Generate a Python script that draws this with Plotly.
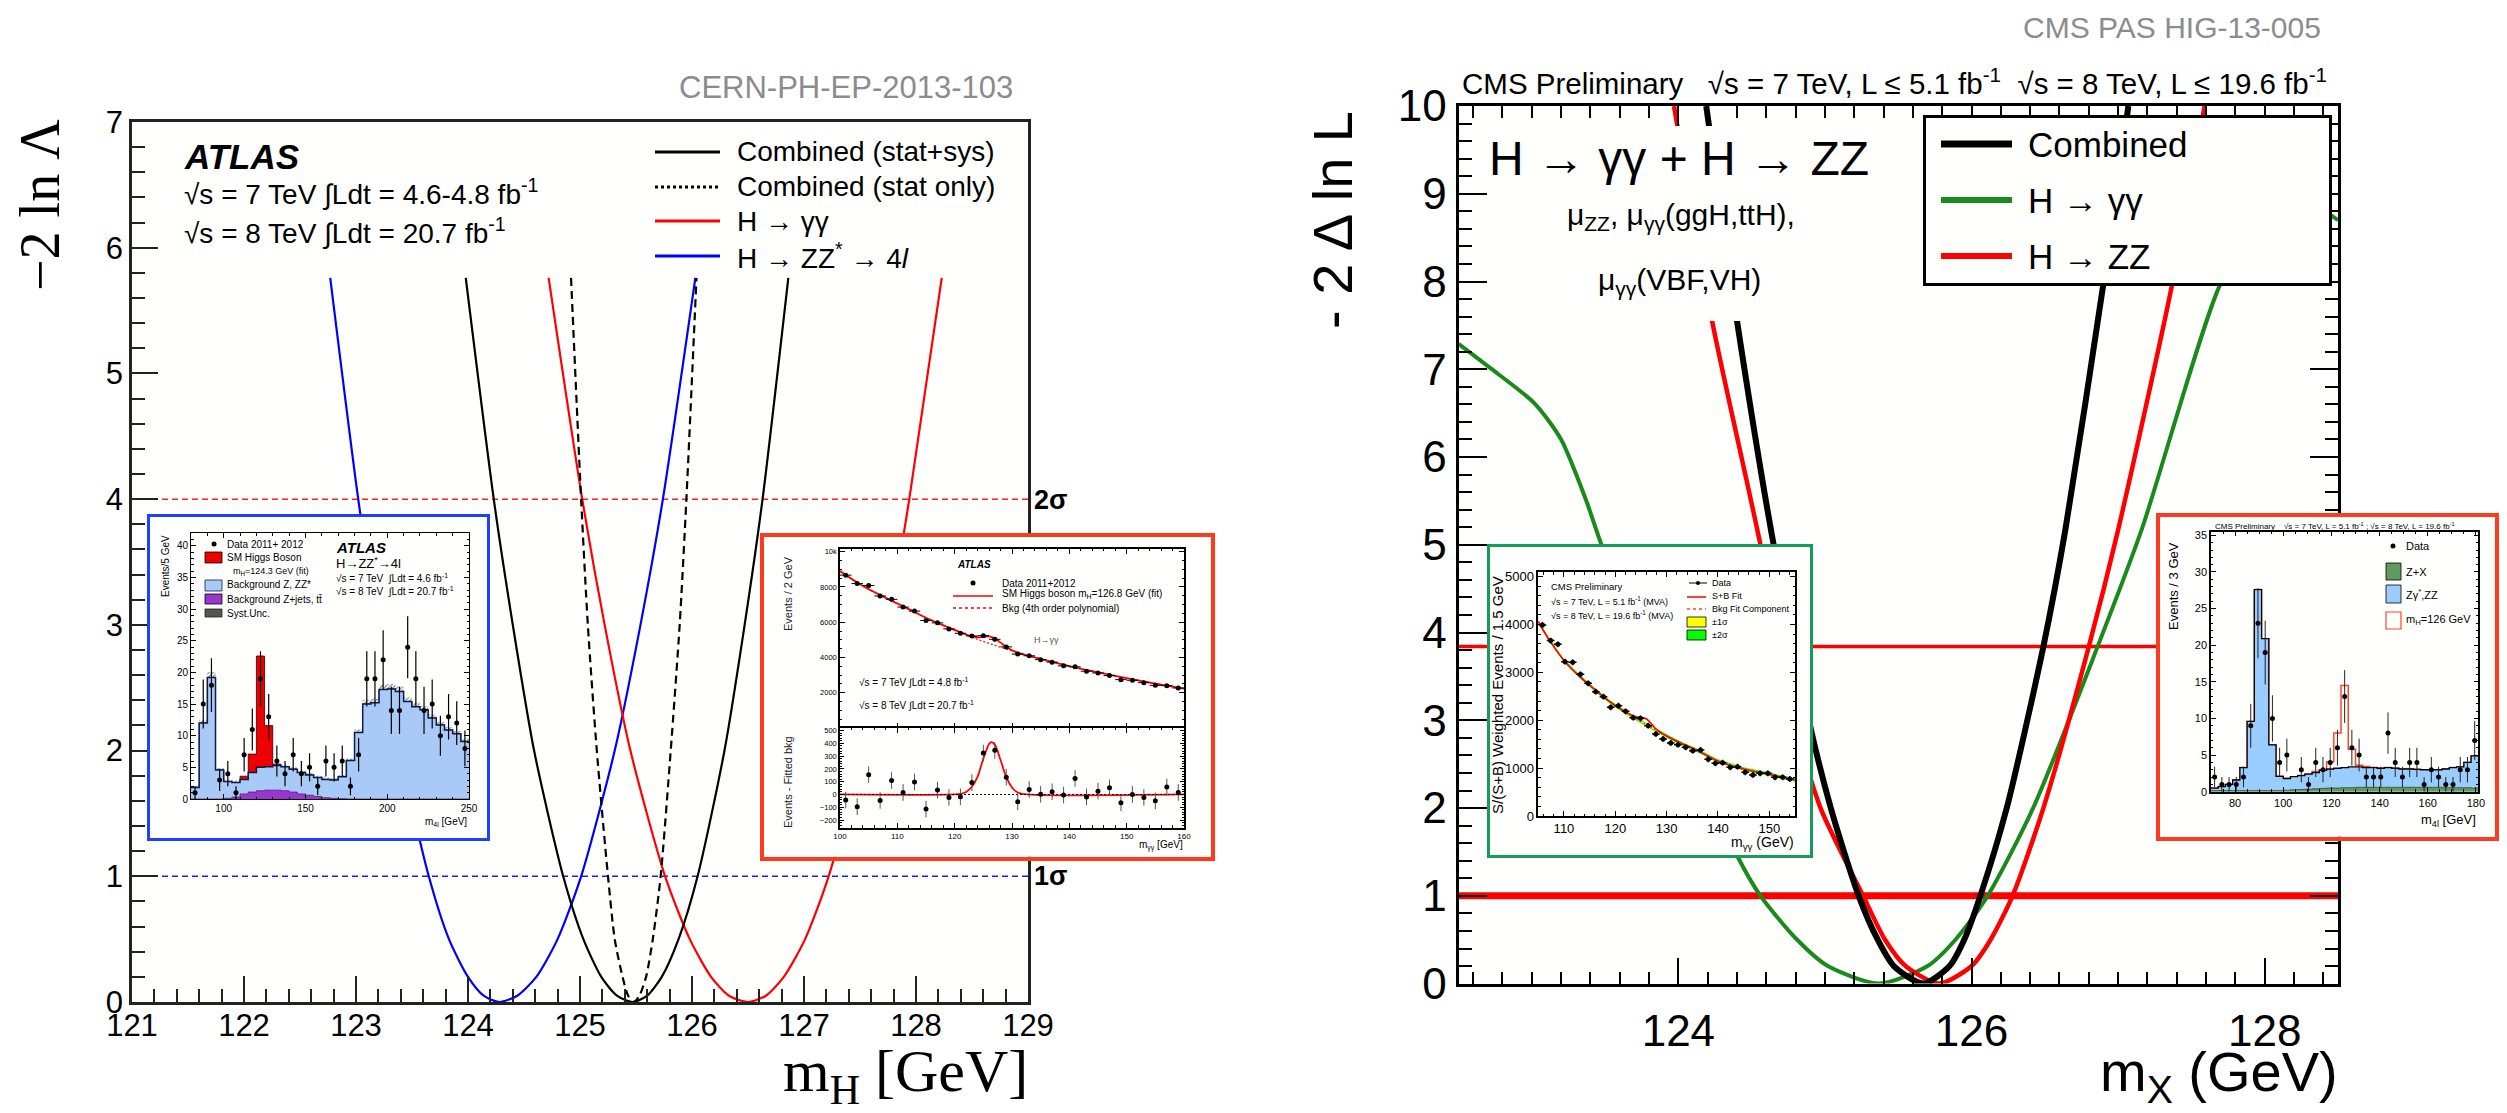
import numpy as np
import plotly.graph_objects as go

W, H = 2507, 1113
SANS = "Liberation Sans, Arial, Helvetica, sans-serif"
SERIF = "Liberation Serif, Times New Roman, serif"

# ---------------- ATLAS main panel (left): -2 ln Lambda vs mH ----------------
ATLAS_XRANGE = [121, 129]
ATLAS_YRANGE = [0, 7]
ATLAS_SIGMA_LEVELS = [1, 4]
ATLAS_LEVELS = [5.76, 4, 3, 2, 1, 0.5, 0.2, 0.05, 0, 0.05, 0.2, 0.5, 1, 2, 3, 4, 5.76]
ATLAS_ZZ_X = [122.77, 123.02, 123.19, 123.39, 123.65, 123.83, 124.00, 124.14, 124.28,
              124.44, 124.61, 124.80, 125.01, 125.31, 125.54, 125.74, 126.03]
ATLAS_COMB_X = [123.98, 124.23, 124.40, 124.59, 124.85, 125.03, 125.19, 125.33, 125.47,
                125.60, 125.73, 125.88, 126.05, 126.29, 126.47, 126.63, 126.86]
ATLAS_STAT_X = [124.92, 125.01, 125.07, 125.15, 125.25, 125.31, 125.38, 125.43, 125.48,
                125.53, 125.59, 125.65, 125.72, 125.81, 125.89, 125.95, 126.04]
ATLAS_GG_X = [124.72, 125.02, 125.22, 125.45, 125.76, 125.98, 126.17, 126.33, 126.50,
              126.66, 126.82, 127.01, 127.22, 127.52, 127.75, 127.94, 128.23]

# ---------------- CMS main panel (right): -2 Delta ln L vs mX ----------------
CMS_XRANGE = [122.5, 128.5]
CMS_YRANGE = [0, 10]
CMS_CL_LEVELS = [1, 3.84]
CMS_COMB_X = [124.19, 124.40, 124.65, 124.89, 125.04, 125.23, 125.36, 125.47, 125.67,
              125.85, 125.95, 126.06, 126.24, 126.49, 126.64, 126.90, 127.07]
CMS_COMB_Y = [10, 7.55, 5, 3, 2, 1, 0.5, 0.2, 0, 0.2, 0.5, 1, 2, 3.84, 5.17, 7.98, 10]
CMS_ZZ_X = [123.97, 124.23, 124.56, 124.79, 124.97, 125.26, 125.41, 125.55, 125.78,
            126.00, 126.13, 126.28, 126.49, 126.80, 127.00, 127.37, 127.59]
CMS_ZZ_Y = [10, 7.55, 5, 3, 2, 1, 0.5, 0.2, 0, 0.2, 0.5, 1, 2, 3.84, 5.17, 7.98, 10]
CMS_GG_X = [122.50, 122.72, 123.02, 123.20, 123.37, 123.48, 123.85, 124.12, 124.40, 124.56,
            124.81, 125.02, 125.37, 125.70, 125.89, 126.11, 126.42, 126.86, 127.16, 127.70,
            127.95, 128.15, 128.35, 128.50]
CMS_GG_Y = [7.29, 7.01, 6.61, 6.20, 5.51, 4.98, 3.5, 2.5, 1.46, 1.0,
            0.5, 0.2, 0, 0.2, 0.5, 1, 2, 3.84, 5.17, 7.98,
            8.6, 8.85, 8.85, 8.7]

# ---------------- inset: ATLAS H->ZZ*->4l ----------------
ZZ_EDGES = list(range(80, 251, 5))
ZZ_BKG = [1.8, 12.0, 19.2, 4.6, 2.75, 2.6, 3.1, 4.2, 5.0, 5.1, 5.3, 5.1, 4.7, 4.2, 3.8, 3.4, 3.1,
          3.0, 3.5, 6.1, 10.5, 15.0, 15.2, 17.3, 17.4, 17.0, 15.4, 14.6, 14.1, 12.8, 11.7, 10.9,
          10.3, 9.1]
ZZ_SIGNAL = [0, 0, 0, 0, 0, 0, 0.5, 2.9, 17.6, 6.5, 0.2, 0, 0, 0, 0, 0, 0,
             0, 0, 0, 0, 0, 0, 0, 0, 0, 0, 0, 0, 0, 0, 0, 0, 0]
ZZ_ZJETS = [0, 0, 0, 0, 0.1, 0.3, 0.8, 1.1, 1.3, 1.4, 1.4, 1.3, 1.1, 0.8, 0.6, 0.4, 0.2,
            0.1, 0.05, 0, 0, 0, 0, 0, 0, 0, 0, 0, 0, 0, 0, 0, 0, 0]
ZZ_DATA = [1, 15, 18, 3, 4, 1, 7, 11, 19, 13, 6, 4, 7, 4, 5, 2, 6, 5, 6, 2, 7, 19, 19, 22,
           14, 14, 24, 19, 14, 15, 10, 13, 12, 8]

# ---------------- inset: ATLAS H->gamma gamma ----------------
AGG_X = list(range(101, 160, 2))
AGG_Y = [8667, 8190, 8076, 7486, 7295, 6857, 6629, 6095, 5962, 5619, 5371, 5219, 5238, 5029,
         4600, 4190, 4095, 3876, 3733, 3524, 3467, 3219, 3124, 2971, 2743, 2705, 2571, 2419,
         2400, 2267]
AGG_RES = [-44, -96, 155, -47, 109, 16, 98, -114, 34, -23, -18, 93, 324, 345, 135, -57, 39, 2,
           21, -5, 125, -19, 26, 52, -65, 0, -23, -50, 59, 16]
AGG_FIT_X = [100, 104, 108, 112, 116, 120, 122, 123, 124, 125, 126, 127, 128, 129, 130, 131,
             132, 136, 140, 144, 148, 152, 156, 160]
AGG_BKG_Y = [8900, 8050, 7380, 6740, 6100, 5560, 5290, 5160, 5020, 4910, 4800, 4690, 4580,
             4480, 4370, 4270, 4170, 3830, 3510, 3220, 2950, 2700, 2460, 2230]
AGG_SB_Y = [8900, 8050, 7380, 6740, 6100, 5560, 5295, 5200, 5140, 5170, 5190, 5080, 4840,
            4600, 4410, 4275, 4170, 3830, 3510, 3220, 2950, 2700, 2460, 2230]
AGG_RESFIT_X = [100, 120, 121, 122, 123, 124, 125, 126, 126.4, 127, 128, 129, 130, 131, 132, 160]
AGG_RESFIT_Y = [0, 0, 5, 20, 60, 140, 280, 395, 410, 390, 270, 135, 55, 15, 3, 0]

# ---------------- inset: CMS H->gamma gamma ----------------
CGG_X = [105.8, 107.4, 108.8, 110.2, 111.7, 113.2, 114.7, 116.2, 117.7, 119.1, 120.6, 122.0,
         123.5, 124.9, 126.4, 127.9, 129.3, 130.8, 132.2, 133.7, 135.1, 136.6, 138.1, 139.5,
         140.9, 142.4, 143.8, 145.3, 146.8, 148.2, 149.7, 151.1, 152.6, 154.0]
CGG_Y = [3990, 3663, 3586, 3224, 3210, 2960, 2772, 2597, 2493, 2270, 2305, 2187, 2054, 2040,
         1887, 1713, 1609, 1525, 1490, 1434, 1365, 1379, 1184, 1100, 1114, 1017, 1031, 912,
         857, 891, 891, 808, 808, 773]
CGG_FIT_X = [105, 107, 110, 113, 116, 119, 122, 124, 125, 126, 127, 128, 130, 133, 136, 140,
             145, 150, 155]
CGG_BKG_Y = [4060, 3700, 3250, 2920, 2640, 2380, 2160, 2030, 1970, 1910, 1850, 1790, 1670,
             1510, 1370, 1150, 980, 870, 750]
CGG_SB_Y = [4060, 3700, 3250, 2920, 2640, 2380, 2175, 2075, 2055, 2030, 1930, 1810, 1670,
            1510, 1370, 1150, 980, 870, 750]
CGG_BAND1 = 18
CGG_BAND2 = 36

# ---------------- inset: CMS H->ZZ->4l ----------------
CZZ_EDGES = list(range(70, 182, 3))
CZZ_BKG = [0.5, 0.7, 1.0, 1.6, 3.3, 9.6, 27.6, 20.9, 6.4, 2.1, 1.8, 2.05, 2.2, 2.4, 2.6, 2.9,
           3.1, 3.2, 3.3, 3.4, 3.4, 3.3, 3.3, 3.2, 3.3, 3.2, 3.1, 3.1, 3.05, 3.0, 3.0, 3.0, 3.1,
           3.3, 3.4, 4.0, 4.9]
CZZ_SIG = [0, 0, 0, 0, 0, 0, 0, 0, 0, 0, 0, 0, 0, 0, 0.15, 0.1, 1.0, 4.8, 11.2, 2.4, 0.2,
           0.15, 0, 0, 0, 0, 0, 0, 0, 0, 0, 0, 0, 0, 0, 0, 0]
CZZ_ZX = [0.15, 0.15, 0.15, 0.15, 0.15, 0.15, 0.15, 0.15, 0.15, 0.15, 0.2, 0.25, 0.3, 0.35,
          0.4, 0.45, 0.5, 0.5, 0.55, 0.55, 0.6, 0.6, 0.6, 0.6, 0.6, 0.6, 0.6, 0.6, 0.6, 0.6,
          0.6, 0.6, 0.55, 0.55, 0.55, 0.55, 0.5]
CZZ_DATA = [2, 1, 1, 1, 2, 9, 23, 19, 10, 4, 5, None, 3, 1, 4, 3, 4, 6, 13, 6, 5, 2, 2, 2, 8,
            4, 2, 4, 4, 1, 3, 2, 1, 1, 3, 3, 7]

# ============================================================================
def px(x):
    return x / W


def py(y):
    return 1 - y / H


def xdom(a, b):
    return [a / W, b / W]


def ydom(top, bot):
    return [1 - bot / H, 1 - top / H]


fig = go.Figure()
layout_axes = {}


def axname(n, kind):
    return kind + ("axis" if n == 1 else "axis%d" % n)


def ref(n, kind):
    return kind if n == 1 else "%s%d" % (kind, n)


def box_axes(n, x0, y0, x1, y1, color=None, lw=3):
    common = dict(range=[0, 1], showgrid=False, zeroline=False, showticklabels=False,
                  ticks="", fixedrange=True, showline=color is not None, automargin=False,
                  linecolor=color or "white", linewidth=lw, mirror=True)
    layout_axes[axname(n, "x")] = dict(domain=xdom(x0, x1), anchor=ref(n, "y"), **common)
    layout_axes[axname(n, "y")] = dict(domain=ydom(y0, y1), anchor=ref(n, "x"), **common)
    fig.add_trace(go.Scatter(x=[None], y=[None], xaxis=ref(n, "x"), yaxis=ref(n, "y"),
                             showlegend=False, hoverinfo="skip"))


def data_axis(dom, rng, anchor, fsize, tickvals=None, dtick=None, minor_dtick=None,
              ticklen=5, showlabels=True, lw=1, tick0=0, mirror="ticks"):
    d = dict(domain=dom, range=rng, anchor=anchor, showgrid=False, zeroline=False,
             showline=True, linecolor="black", linewidth=lw, mirror=mirror, automargin=False,
             ticks="inside", ticklen=ticklen, tickcolor="black", tickwidth=1,
             showticklabels=showlabels,
             tickfont=dict(family=SANS, size=fsize, color="black"), fixedrange=True)
    if tickvals is not None:
        d["tickvals"] = tickvals
    else:
        d["tick0"] = tick0
        d["dtick"] = dtick
    if minor_dtick:
        d["minor"] = dict(dtick=minor_dtick, ticks="inside", ticklen=max(2, ticklen * 0.5),
                          tickcolor="black", tickwidth=1)
    return d


def step(edges, vals):
    return list(edges), list(vals) + [vals[-1]]


def txt(x, y, s, size, color="black", xa="left", ya="middle", family=SANS, angle=0):
    fig.add_annotation(x=px(x), y=py(y), xref="paper", yref="paper", text=s, showarrow=False,
                       xanchor=xa, yanchor=ya, textangle=angle,
                       font=dict(size=size, color=color, family=family))


def hline(x0, x1, y, color, width, dash="solid"):
    fig.add_shape(type="line", xref="paper", yref="paper", x0=px(x0), x1=px(x1),
                  y0=py(y), y1=py(y), line=dict(color=color, width=width, dash=dash),
                  layer="above")


def rect(x0, y0, x1, y1, fill, line="black", lw=0.8):
    fig.add_shape(type="rect", xref="paper", yref="paper", x0=px(x0), x1=px(x1),
                  y0=py(y1), y1=py(y0), fillcolor=fill, line=dict(color=line, width=lw),
                  layer="above")


def dot(x, y, r, color="black"):
    fig.add_shape(type="circle", xref="paper", yref="paper", x0=px(x - r), x1=px(x + r),
                  y0=py(y + r), y1=py(y - r), fillcolor=color, line=dict(color=color, width=0),
                  layer="above")


# ---------------- subplot 1: ATLAS main ----------------
layout_axes["xaxis"] = dict(domain=xdom(132, 1028), range=ATLAS_XRANGE, anchor="y",
                            showgrid=False, zeroline=False, showline=True, linecolor="#222",
                            linewidth=2.5, mirror=True, ticks="inside", ticklen=26,
                            tickwidth=2, tickcolor="#222", tick0=0, dtick=1, automargin=False,
                            ticklabelstandoff=-6,
                            minor=dict(dtick=0.2, ticks="inside", ticklen=13, tickwidth=1.5,
                                       tickcolor="#222"),
                            tickfont=dict(family=SANS, size=31, color="black"), fixedrange=True)
layout_axes["yaxis"] = dict(domain=ydom(122, 1002), range=ATLAS_YRANGE, anchor="x",
                            showgrid=False, zeroline=False, showline=True, linecolor="#222",
                            linewidth=2.5, mirror=True, ticks="inside", ticklen=26,
                            tickwidth=2, tickcolor="#222", tick0=0, dtick=1, automargin=False,
                            minor=dict(dtick=0.2, ticks="inside", ticklen=13, tickwidth=1.5,
                                       tickcolor="#222"),
                            tickfont=dict(family=SANS, size=31, color="black"), fixedrange=True)

fig.add_trace(go.Scatter(x=ATLAS_XRANGE, y=[ATLAS_SIGMA_LEVELS[1]] * 2, mode="lines",
                         line=dict(color="#ff2020", width=1.5, dash="6px,4px"),
                         xaxis="x", yaxis="y", hoverinfo="skip"))
fig.add_trace(go.Scatter(x=ATLAS_XRANGE, y=[ATLAS_SIGMA_LEVELS[0]] * 2, mode="lines",
                         line=dict(color="#1020ff", width=1.5, dash="6px,4px"),
                         xaxis="x", yaxis="y", hoverinfo="skip"))
for xs, col, dash in [(ATLAS_ZZ_X, "#0000ff", "solid"), (ATLAS_GG_X, "#ff0000", "solid"),
                      (ATLAS_STAT_X, "black", "8px,5px"), (ATLAS_COMB_X, "black", "solid")]:
    fig.add_trace(go.Scatter(x=xs, y=ATLAS_LEVELS, mode="lines", xaxis="x", yaxis="y",
                             line=dict(color=col, width=2.2, dash=dash, shape="spline",
                                       smoothing=0.7), hoverinfo="skip"))

# ---------------- subplot 2: CMS main ----------------
layout_axes["xaxis2"] = dict(domain=xdom(1458.5, 2338), range=CMS_XRANGE, anchor="y2",
                             showgrid=False, zeroline=False, showline=True, linecolor="black",
                             linewidth=3, mirror="ticks", ticks="inside", ticklen=26,
                             tickwidth=2, tickcolor="black", tick0=0, dtick=2, automargin=False,
                             ticklabelstandoff=7,
                             minor=dict(dtick=0.2, ticks="inside", ticklen=12, tickwidth=1.5,
                                        tickcolor="black"),
                             tickfont=dict(family=SANS, size=44, color="black"), fixedrange=True)
layout_axes["yaxis2"] = dict(domain=ydom(106, 983.6), range=CMS_YRANGE, anchor="x2",
                             showgrid=False, zeroline=False, showline=True, linecolor="black",
                             linewidth=3, mirror="ticks", ticks="inside", ticklen=28,
                             tickwidth=2, tickcolor="black", tick0=0, dtick=1, automargin=False,
                             minor=dict(dtick=0.2, ticks="inside", ticklen=13, tickwidth=1.5,
                                        tickcolor="black"),
                             tickfont=dict(family=SANS, size=44, color="black"), fixedrange=True)

fig.add_trace(go.Scatter(x=CMS_XRANGE, y=[CMS_CL_LEVELS[0]] * 2, mode="lines",
                         line=dict(color="#ff0000", width=7), xaxis="x2", yaxis="y2",
                         hoverinfo="skip"))
fig.add_trace(go.Scatter(x=CMS_XRANGE, y=[CMS_CL_LEVELS[1]] * 2, mode="lines",
                         line=dict(color="#ff0000", width=3.5), xaxis="x2", yaxis="y2",
                         hoverinfo="skip"))
for xs, ys, col, w in [(CMS_GG_X, CMS_GG_Y, "#1a8a1a", 4), (CMS_ZZ_X, CMS_ZZ_Y, "#ff0000", 4.5),
                       (CMS_COMB_X, CMS_COMB_Y, "black", 6)]:
    fig.add_trace(go.Scatter(x=xs, y=ys, mode="lines", xaxis="x2", yaxis="y2",
                             line=dict(color=col, width=w, shape="spline", smoothing=0.7),
                             hoverinfo="skip"))

# ---------------- subplot 3/4: ATLAS ZZ inset ----------------
box_axes(3, 150, 516.7, 486.7, 838.3, color="#2040ff", lw=3)
layout_axes["xaxis4"] = data_axis(xdom(191, 469), [80, 250], "y4", 10, dtick=50, tick0=0,
                                  minor_dtick=10)
layout_axes["yaxis4"] = data_axis(ydom(533.3, 799), [0, 42], "x4", 10, dtick=5, minor_dtick=1)
ex, tot = step(ZZ_EDGES, [b + s for b, s in zip(ZZ_BKG, ZZ_SIGNAL)])
fig.add_trace(go.Scatter(x=ex, y=tot, mode="lines", line=dict(shape="hv", color="#300", width=0.8),
                         fill="tozeroy", fillcolor="#ee0000", xaxis="x4", yaxis="y4",
                         hoverinfo="skip"))
ex, bk = step(ZZ_EDGES, ZZ_BKG)
fig.add_trace(go.Scatter(x=ex, y=bk, mode="lines", line=dict(shape="hv", color="#0b1d4d", width=1.5),
                         fill="tozeroy", fillcolor="#a9c9f7", xaxis="x4", yaxis="y4",
                         hoverinfo="skip"))
zz_centers = [e + 2.5 for e in ZZ_EDGES[:-1]]
zz_syst = np.maximum(0.3, 0.045 * np.array(ZZ_BKG))
fig.add_trace(go.Bar(x=zz_centers, y=2 * zz_syst, base=np.array(ZZ_BKG) - zz_syst, width=5,
                     marker=dict(color="rgba(0,0,0,0)", line=dict(width=0),
                                 pattern=dict(shape="/", fgcolor="#222", size=3, solidity=0.45)),
                     xaxis="x4", yaxis="y4", hoverinfo="skip"))
ex, zj = step(ZZ_EDGES, ZZ_ZJETS)
fig.add_trace(go.Scatter(x=ex, y=zj, mode="lines", line=dict(shape="hv", color="#5a1a80", width=0.8),
                         fill="tozeroy", fillcolor="#9b35cf", xaxis="x4", yaxis="y4",
                         hoverinfo="skip"))
fig.add_trace(go.Scatter(x=zz_centers, y=ZZ_DATA, mode="markers",
                         marker=dict(color="black", size=5),
                         error_y=dict(type="data", array=np.sqrt(ZZ_DATA), color="black",
                                      thickness=1.2, width=0),
                         xaxis="x4", yaxis="y4", hoverinfo="skip"))

# ---------------- subplot 5/6/7: ATLAS gamma-gamma inset ----------------
box_axes(5, 764, 536.7, 1211, 856.7, color="#ff3a1a", lw=3.5)
layout_axes["xaxis6"] = data_axis(xdom(840, 1184), [100, 160], "y6", 8, dtick=10,
                                  minor_dtick=2, showlabels=False, lw=1.5)
layout_axes["yaxis6"] = data_axis(ydom(549, 728), [0, 10150], "x6", 7.5,
                                  tickvals=[2000, 4000, 6000, 8000, 10000], minor_dtick=500, lw=1.5)
layout_axes["xaxis7"] = data_axis(xdom(840, 1184), [100, 160], "y7", 8, dtick=10,
                                  minor_dtick=2, lw=1.5)
layout_axes["yaxis7"] = data_axis(ydom(728, 827.7), [-260, 520], "x7", 7.5,
                                  tickvals=[-200, -100, 0, 100, 200, 300, 400, 500],
                                  minor_dtick=20, ticklen=4, lw=1.5)
fig.add_trace(go.Scatter(x=AGG_FIT_X, y=AGG_BKG_Y, mode="lines",
                         line=dict(color="#ff2020", width=1.3, dash="2px,2px", shape="spline"),
                         xaxis="x6", yaxis="y6", hoverinfo="skip"))
fig.add_trace(go.Scatter(x=AGG_FIT_X, y=AGG_SB_Y, mode="lines",
                         line=dict(color="#ff0000", width=1.8, shape="spline"),
                         xaxis="x6", yaxis="y6", hoverinfo="skip"))
fig.add_trace(go.Scatter(x=AGG_X, y=AGG_Y, mode="markers", marker=dict(color="black", size=5),
                         error_x=dict(type="constant", value=1, color="black", thickness=1, width=0),
                         error_y=dict(type="constant", value=90, color="black", thickness=1, width=0),
                         xaxis="x6", yaxis="y6", hoverinfo="skip"))
fig.add_trace(go.Scatter(x=AGG_RESFIT_X, y=AGG_RESFIT_Y, mode="lines",
                         line=dict(color="#ff0000", width=1.8, shape="spline"),
                         xaxis="x7", yaxis="y7", hoverinfo="skip"))
fig.add_trace(go.Scatter(x=[100, 160], y=[0, 0], mode="lines",
                         line=dict(color="black", width=1, dash="2px,2px"),
                         xaxis="x7", yaxis="y7", hoverinfo="skip"))
fig.add_trace(go.Scatter(x=AGG_X, y=AGG_RES, mode="markers", marker=dict(color="black", size=5),
                         error_y=dict(type="constant", value=65, color="#555", thickness=1, width=0),
                         xaxis="x7", yaxis="y7", hoverinfo="skip"))

# ---------------- subplot 8/9: CMS white text box and legend box ----------------
box_axes(8, 1490, 126, 1900, 321, color=None)
box_axes(9, 1926, 118, 2329, 283, color="black", lw=2.5)

# ---------------- subplot 10/11: CMS gamma-gamma inset ----------------
box_axes(10, 1490, 546.7, 1810, 855, color="#169b5b", lw=3)
layout_axes["xaxis11"] = data_axis(xdom(1538.3, 1795), [105, 155], "y11", 13, dtick=10,
                                   minor_dtick=2, lw=1.5)
layout_axes["yaxis11"] = data_axis(ydom(572.3, 816), [0, 5090], "x11", 13, dtick=1000,
                                   minor_dtick=200, lw=1.5)
bk = np.array(CGG_BKG_Y)
for half, col in [(CGG_BAND2, "#00ff00"), (CGG_BAND1, "#ffff00")]:
    fig.add_trace(go.Scatter(x=CGG_FIT_X, y=bk - half, mode="lines", line=dict(width=0),
                             xaxis="x11", yaxis="y11", hoverinfo="skip"))
    fig.add_trace(go.Scatter(x=CGG_FIT_X, y=bk + half, mode="lines", line=dict(width=0),
                             fill="tonexty", fillcolor=col, xaxis="x11", yaxis="y11",
                             hoverinfo="skip"))
fig.add_trace(go.Scatter(x=CGG_FIT_X, y=CGG_BKG_Y, mode="lines",
                         line=dict(color="#ff4040", width=1.2, dash="2px,2px", shape="spline"),
                         xaxis="x11", yaxis="y11", hoverinfo="skip"))
fig.add_trace(go.Scatter(x=CGG_FIT_X, y=CGG_SB_Y, mode="lines",
                         line=dict(color="#ff0000", width=1.6, shape="spline"),
                         xaxis="x11", yaxis="y11", hoverinfo="skip"))
fig.add_trace(go.Scatter(x=CGG_X, y=CGG_Y, mode="markers", marker=dict(color="black", size=5),
                         error_x=dict(type="constant", value=0.75, color="black", thickness=1.5, width=0),
                         error_y=dict(type="constant", value=60, color="black", thickness=1.5, width=0),
                         xaxis="x11", yaxis="y11", hoverinfo="skip"))

# ---------------- subplot 12/13: CMS 4l inset ----------------
box_axes(12, 2160, 516.7, 2495, 836.7, color="#ff3b1f", lw=3.5)
layout_axes["xaxis13"] = data_axis(xdom(2211, 2478.3), [70, 181], "y13", 11,
                                   tickvals=[80, 100, 120, 140, 160, 180], minor_dtick=5, lw=1.5)
layout_axes["yaxis13"] = data_axis(ydom(531.7, 791.7), [0, 35.5], "x13", 11, dtick=5,
                                   minor_dtick=1, lw=1.5)
ex, st = step(CZZ_EDGES, [b + s for b, s in zip(CZZ_BKG, CZZ_SIG)])
fig.add_trace(go.Scatter(x=ex, y=st, mode="lines", line=dict(shape="hv", color="#ff4422", width=1.5),
                         xaxis="x13", yaxis="y13", hoverinfo="skip"))
ex, bk4 = step(CZZ_EDGES, CZZ_BKG)
fig.add_trace(go.Scatter(x=ex, y=bk4, mode="lines", line=dict(shape="hv", color="black", width=1.3),
                         fill="tozeroy", fillcolor="#99ccff", xaxis="x13", yaxis="y13",
                         hoverinfo="skip"))
ex, zx = step(CZZ_EDGES, CZZ_ZX)
fig.add_trace(go.Scatter(x=ex, y=zx, mode="lines", line=dict(shape="hv", color="#2d4f2d", width=0.8),
                         fill="tozeroy", fillcolor="#5f9a5f", xaxis="x13", yaxis="y13",
                         hoverinfo="skip"))
czz_centers = [e + 1.5 for e in CZZ_EDGES[:-1]]
czz_err = [None if v is None else float(np.sqrt(v)) for v in CZZ_DATA]
fig.add_trace(go.Scatter(x=czz_centers, y=CZZ_DATA, mode="markers",
                         marker=dict(color="black", size=5),
                         error_y=dict(type="data", array=czz_err, color="#222", thickness=1, width=0),
                         xaxis="x13", yaxis="y13", hoverinfo="skip"))

# ---------------- text: ATLAS panel ----------------
txt(1015, 87, "CERN-PH-EP-2013-103", 31, "#8c8c8c", xa="right")
txt(182, 156, "<b><i>ATLAS</i></b>", 35)
txt(182, 192, "√s = 7 TeV ∫Ldt = 4.6-4.8 fb<sup>-1</sup>", 28)
txt(182, 231, "√s = 8 TeV ∫Ldt = 20.7 fb<sup>-1</sup>", 28)
for yy, s in [(152, "Combined (stat+sys)"), (187, "Combined (stat only)"), (221, "H → γγ"),
              (256, "H → ZZ<sup>*</sup> → 4<i>l</i>")]:
    txt(735, yy, s, 28)
hline(655, 720, 152, "black", 3)
hline(655, 720, 187, "black", 3, "dot")
hline(655, 720, 221, "#ff0000", 3)
hline(655, 720, 256, "#0000ff", 3)
txt(1032, 500, "<b>2σ</b>", 27)
txt(1032, 876, "<b>1σ</b>", 27)
txt(40, 205, "−2 ln Λ", 56, family=SERIF, xa="center", angle=-90)
txt(1030, 1075, "m<sub>H</sub> [GeV]", 60, family=SERIF, xa="right")

# ATLAS ZZ inset text
txt(165, 566, "Events/5 GeV", 10, xa="center", angle=-90)
txt(469, 822, "m<sub>4l</sub> [GeV]", 10, xa="right")
dot(214, 544, 2.5)
txt(225, 544, "Data 2011+ 2012", 10)
rect(205, 552, 222, 563, "#ee0000")
txt(225, 557, "SM Higgs Boson", 10)
txt(231, 571, "m<sub>H</sub>=124.3 GeV (fit)", 9)
rect(205, 580, 222, 591, "#a9c9f7", "#0b1d4d")
txt(225, 585, "Background Z, ZZ*", 10)
rect(205, 594, 222, 604, "#9b35cf")
txt(225, 599, "Background Z+jets, tt̄", 10)
rect(205, 609, 222, 617, "#555555", "#222")
txt(225, 613, "Syst.Unc.", 10)
txt(334, 548, "<b><i>ATLAS</i></b>", 15)
txt(334, 563, "H→ZZ<sup>*</sup>→4l", 13)
txt(334, 578, "√s = 7 TeV  ∫Ldt = 4.6 fb<sup>-1</sup>", 10)
txt(334, 591, "√s = 8 TeV  ∫Ldt = 20.7 fb<sup>-1</sup>", 10)

# ATLAS gamma gamma inset text
txt(788, 594, "Events / 2 GeV", 11, "#222", xa="center", angle=-90)
txt(788, 782, "Events - Fitted bkg", 11, "#222", xa="center", angle=-90)
txt(955, 564, "<b><i>ATLAS</i></b>", 10)
dot(973, 583, 2.5)
txt(1000, 583, "Data 2011+2012", 10)
hline(953, 993, 596, "#ff0000", 1.5)
txt(1000, 594, "SM Higgs boson m<sub>H</sub>=126.8 GeV (fit)", 10)
hline(953, 993, 608, "#ff0000", 1.5, "dot")
txt(1000, 608, "Bkg (4th order polynomial)", 10)
txt(1032, 640, "H→γγ", 9, "#555")
txt(857, 682, "√s = 7 TeV ∫Ldt = 4.8 fb<sup>-1</sup>", 10)
txt(857, 705, "√s = 8 TeV ∫Ldt = 20.7 fb<sup>-1</sup>", 10)
txt(1185, 845, "m<sub>γγ</sub> [GeV]", 10, xa="right")

# ---------------- text: CMS panel ----------------
txt(2323, 28, "CMS PAS HIG-13-005", 30, "#8c8c8c", xa="right")
txt(1460, 82, "CMS Preliminary\u00a0\u00a0 √s = 7 TeV, L ≤ 5.1 fb<sup>-1</sup>\u00a0 √s = 8 TeV, L ≤ 19.6 fb<sup>-1</sup>", 29.5)
txt(1487, 158, "H → γγ + H → ZZ", 48)
txt(1681, 217, "μ<sub>ZZ</sub>, μ<sub>γγ</sub>(ggH,ttH),", 30, xa="center")
txt(1679, 281, "μ<sub>γγ</sub>(VBF,VH)", 30, xa="center")
hline(1941, 2012, 144, "black", 7)
hline(1941, 2012, 200, "#1a8a1a", 6)
hline(1941, 2012, 256, "#ff0000", 6)
txt(2026, 144, "Combined", 35)
txt(2026, 200, "H → γγ", 35)
txt(2026, 256, "H → ZZ", 35)
txt(1332, 220, "- 2 Δ ln L", 56, xa="center", angle=-90)
txt(2340, 1075, "m<sub>X</sub> (GeV)", 56, xa="right")

# CMS gamma gamma inset text
txt(1497, 695, "S/(S+B) Weighted Events / 1.5 GeV", 15, xa="center", angle=-90)
txt(1796, 843, "m<sub>γγ</sub> (GeV)", 14, xa="right")
txt(1549, 586, "CMS Preliminary", 9.5)
txt(1549, 601, "√s = 7 TeV, L = 5.1 fb<sup>-1</sup> (MVA)", 9)
txt(1549, 615, "√s = 8 TeV, L = 19.6 fb<sup>-1</sup> (MVA)", 9)
hline(1689, 1707, 583, "black", 1)
dot(1698, 583, 2)
txt(1710, 583, "Data", 9)
hline(1687, 1706, 597, "#ff0000", 1.5)
txt(1710, 596, "S+B Fit", 9)
hline(1687, 1706, 609, "#ff4040", 1.5, "dot")
txt(1710, 609, "Bkg Fit Component", 9)
rect(1687, 617, 1706, 627, "#ffff00")
txt(1710, 622, "±1σ", 9)
rect(1687, 630, 1706, 640, "#00ff00")
txt(1710, 635, "±2σ", 9)

# CMS 4l inset text
txt(2213, 526, "CMS Preliminary\u00a0\u00a0\u00a0 √s = 7 TeV, L = 5.1 fb<sup>-1</sup> ; √s = 8 TeV, L = 19.6 fb<sup>-1</sup>", 8)
txt(2173, 586, "Events / 3 GeV", 13, xa="center", angle=-90)
txt(2478, 820, "m<sub>4l</sub> [GeV]", 13, xa="right")
dot(2393, 546, 2.5)
txt(2404, 546, "Data", 11)
rect(2386, 563, 2401, 580, "#5f9a5f")
txt(2404, 572, "Z+X", 11)
rect(2386, 585, 2401, 603, "#99ccff")
txt(2404, 594, "Zγ<sup>*</sup>,ZZ", 11)
rect(2386, 612, 2401, 629, "white", "#ff4422", 1.2)
txt(2404, 620, "m<sub>H</sub>=126 GeV", 11)

fig.update_layout(width=W, height=H, margin=dict(l=0, r=0, t=0, b=0), showlegend=False,
                  paper_bgcolor="white", plot_bgcolor="#fffffe", barmode="overlay",
                  font=dict(family=SANS, color="black"), **layout_axes)
fig.write_html("out.html")
